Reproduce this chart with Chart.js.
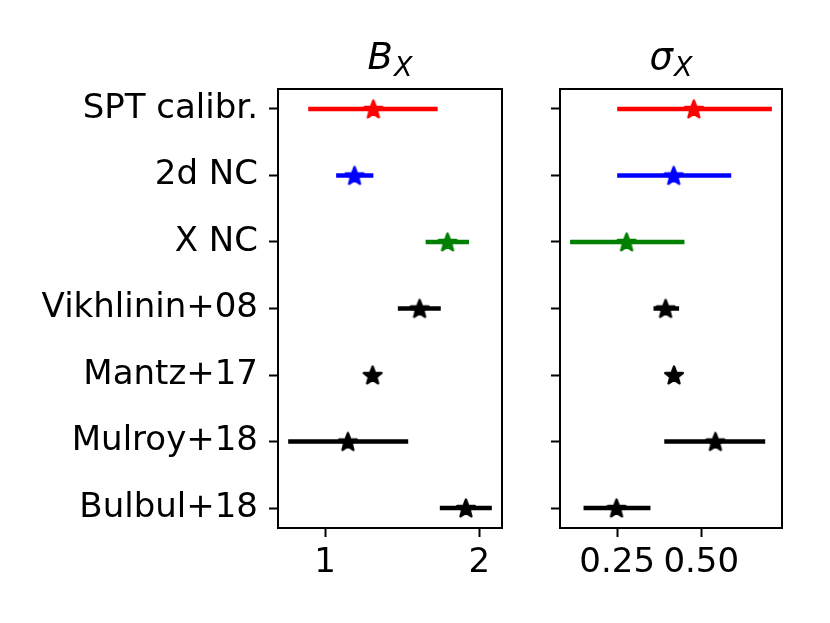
<!DOCTYPE html>
<html>
<head>
<meta charset="utf-8">
<script src="https://cdn.jsdelivr.net/npm/chart.js@4/dist/chart.umd.min.js"></script>
<style>
    body { margin: 0; background: #fff; }
    #wrap { position: relative; width: 830px; height: 623px; }
    #wrap canvas { position: absolute; top: 0; }
    #bxChart { left: 0; }
    #sxChart { left: 530px; }
</style>
</head>
<body>
<div id="wrap">
    <canvas id="bxChart" width="520" height="623"></canvas>
    <canvas id="sxChart" width="300" height="623"></canvas>
</div>
<script>
// Data
const labels = ['SPT calibr.', '2d NC', 'X NC', 'Vikhlinin+08', 'Mantz+17', 'Mulroy+18', 'Bulbul+18'];
const colors = ['#ff0000', '#0000ff', '#008000', '#000000', '#000000', '#000000', '#000000'];

const bxCenter = [1.313, 1.191, 1.794, 1.613, 1.308, 1.148, 1.913];
const bxLow    = [0.891, 1.072, 1.652, 1.472, 1.290, 0.761, 1.744];
const bxHigh   = [1.730, 1.313, 1.933, 1.750, 1.330, 1.539, 2.081];

const sxCenter = [0.478, 0.418, 0.278, 0.394, 0.419, 0.542, 0.248];
const sxLow    = [0.250, 0.250, 0.110, 0.358, 0.405, 0.390, 0.150];
const sxHigh   = [0.710, 0.589, 0.450, 0.434, 0.433, 0.690, 0.349];

const bxTicks = [1, 2];
const bxTickLabels = ['1', '2'];
const sxTicks = [0.25, 0.50];
const sxTickLabels = ['0.25', '0.50'];

const FONT = 'DejaVu Sans';

// bikin gambar bintang untuk pointStyle
function makeStar(color) {
    const c = document.createElement('canvas');
    c.width = 28; c.height = 28;
    const g = c.getContext('2d');
    const R = 9.2, r = R * 0.42;
    g.beginPath();
    for (let i = 0; i < 10; i++) {
        const rad = i % 2 === 0 ? R : r;
        const a = -Math.PI / 2 + i * Math.PI / 5;
        const px = 14 + rad * Math.cos(a);
        const py = 14.8 + rad * Math.sin(a);
        if (i === 0) g.moveTo(px, py); else g.lineTo(px, py);
    }
    g.closePath();
    g.fillStyle = color;
    g.strokeStyle = color;
    g.lineWidth = 2.5;
    g.lineJoin = 'round';
    g.fill();
    g.stroke();
    return c;
}
const stars = {};
colors.forEach(c => { if (!stars[c]) stars[c] = makeStar(c); });

// kotak sekeliling area plot + judul
const boxPlugin = {
    id: 'box',
    afterDraw(chart, args, opts) {
        const { ctx, chartArea: a } = chart;
        ctx.save();
        ctx.strokeStyle = '#000';
        ctx.lineWidth = 2;
        ctx.strokeRect(a.left, a.top, a.right - a.left, a.bottom - a.top);

        ctx.fillStyle = '#000';
        ctx.textBaseline = 'alphabetic';
        ctx.font = 'italic 37px "' + FONT + '"';
        const w1 = ctx.measureText(opts.main).width;
        ctx.font = 'italic 27px "' + FONT + '"';
        const w2 = ctx.measureText(opts.sub).width;
        const x0 = (a.left + a.right) / 2 - (w1 + w2 + 1) / 2;
        ctx.font = 'italic 37px "' + FONT + '"';
        ctx.fillText(opts.main, x0, 69);
        ctx.font = 'italic 27px "' + FONT + '"';
        ctx.fillText(opts.sub, x0 + w1 + 1, 76);
        ctx.restore();
    }
};

function buildDatasets(center, low, high) {
    const ds = [{
        label: 'center',
        data: center.map((v, i) => ({ x: v, y: i })),
        pointStyle: ctx => stars[colors[ctx.dataIndex]],
        pointRadius: 9,
        showLine: false,
        order: -1
    }];
    center.forEach((v, i) => {
        ds.push({
            label: labels[i],
            data: [{ x: low[i], y: i }, { x: high[i], y: i }],
            showLine: true,
            borderColor: colors[i],
            borderWidth: 4.5,
            borderCapStyle: 'butt',
            pointRadius: 0,
            order: 1
        });
    });
    return ds;
}

function makeChart(id, center, low, high, ticks, tickLabels, showY, yWidth, padRight, title) {
    const lo = Math.min(...low), hi = Math.max(...high);
    const pad = 0.05 * (hi - lo);
    return new Chart(document.getElementById(id).getContext('2d'), {
        type: 'scatter',
        data: { datasets: buildDatasets(center, low, high) },
        plugins: [boxPlugin],
        options: {
            responsive: false,
            animation: false,
            layout: { padding: { top: 89, right: padRight, left: 0, bottom: 0 } },
            plugins: {
                legend: { display: false },
                tooltip: { enabled: false },
                box: title
            },
            scales: {
                x: {
                    type: 'linear',
                    min: lo - pad,
                    max: hi + pad,
                    afterBuildTicks: s => { s.ticks = ticks.map(v => ({ value: v })); },
                    afterFit: s => { s.height = 95; },
                    border: { display: false },
                    grid: { drawOnChartArea: false, drawTicks: true, tickLength: 9, tickWidth: 2, tickColor: '#000' },
                    ticks: {
                        color: '#000',
                        font: { family: FONT, size: 34 },
                        padding: 6,
                        maxRotation: 0,
                        autoSkip: false,
                        callback: (v, i) => tickLabels[i]
                    }
                },
                y: {
                    type: 'linear',
                    reverse: true,
                    min: -0.3,
                    max: 6.3,
                    afterBuildTicks: s => { s.ticks = labels.map((l, i) => ({ value: i })); },
                    afterFit: s => { s.width = yWidth; },
                    border: { display: false },
                    grid: { drawOnChartArea: false, drawTicks: true, tickLength: 9, tickWidth: 2, tickColor: '#000' },
                    ticks: {
                        color: '#000',
                        font: { family: FONT, size: 34 },
                        padding: 11,
                        autoSkip: false,
                        callback: (v, i) => showY ? labels[i] : ''
                    }
                }
            }
        }
    });
}

makeChart('bxChart', bxCenter, bxLow, bxHigh, bxTicks, bxTickLabels, true, 278, 18, { main: 'B', sub: 'X' });
makeChart('sxChart', sxCenter, sxLow, sxHigh, sxTicks, sxTickLabels, false, 30, 48, { main: 'σ', sub: 'X' });
</script>
</body>
</html>
